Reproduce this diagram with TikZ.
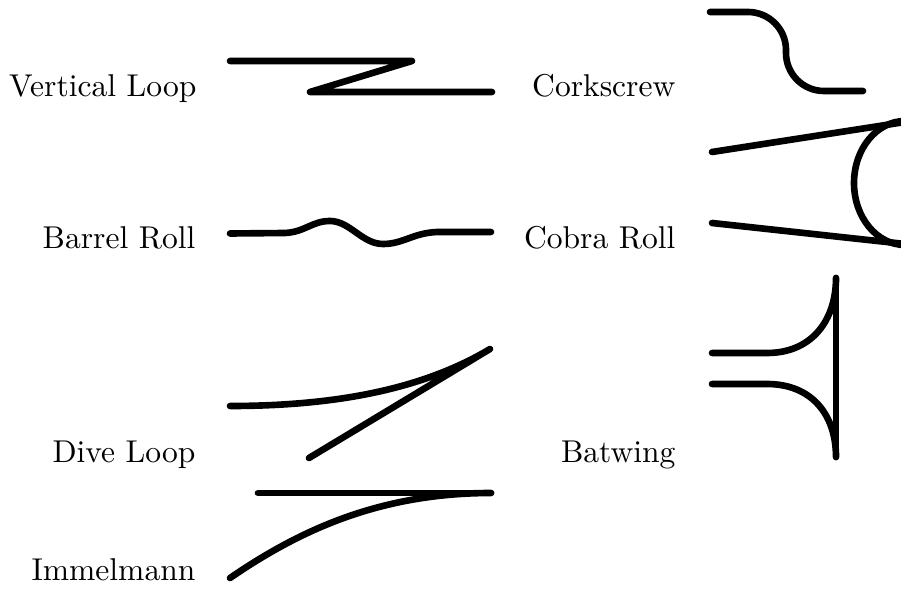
\documentclass[tikz,border=0pt]{standalone}
\begin{document}
\begin{tikzpicture}[x=0.317pt,y=-0.317pt,
  maneuver/.style={line width=2.1pt, line cap=round, line join=round},
  lbl/.style={anchor=base east, inner sep=0pt}]
\useasboundingbox (0,0) rectangle (901,590);
% labels
\node[lbl] (vl) at (197,96.5) {Vertical Loop};
\node[lbl] (br) at (196,248.5) {Barrel Roll};
\node[lbl] (dl) at (196,462.5) {Dive Loop};
\node[lbl] (im) at (196,580.5) {Immelmann};
\node[lbl] (cs) at (676,96.5) {Corkscrew};
\node[lbl] (cr) at (676,248.5) {Cobra Roll};
\node[lbl] (bw) at (676,462.5) {Batwing};
% Vertical Loop
\draw[maneuver] (230,61) -- (412,61) -- (310,92) -- (492,92);
% Barrel Roll
\draw[maneuver] (230,233.5) -- (285,233) .. controls (305,232) and (312,221) .. (330,221)
  .. controls (350,221) and (362,244) .. (383,244)
  .. controls (403,244) and (413,233) .. (437,232) -- (491,232);
% Dive Loop
\draw[maneuver] (230,406) .. controls (330,406) and (420,391) .. (490,349) -- (309,458);
% Immelmann
\draw[maneuver] (258,493) -- (491,493);
\draw[maneuver] (230,578) .. controls (300,530) and (380,493) .. (491,493);
% Corkscrew
\draw[maneuver] (710,12) -- (748,12) arc[start angle=270,end angle=360,radius=38]
  -- ++(0,3) arc[start angle=180,end angle=90,radius=38] -- (863,91);
% Cobra Roll
\draw[maneuver] (712,152) -- (905,122);
\draw[maneuver] (712,223) -- (905,244);
\draw[maneuver] (905,121) arc[start angle=270,end angle=90,x radius=51,y radius=62];
% Batwing
\draw[maneuver] (836,278) -- (836,457);
\draw[maneuver] (712,353) -- (767,353) .. controls (812,353) and (836,320) .. (836,278);
\draw[maneuver] (712,384) -- (767,384) .. controls (812,384) and (836,415) .. (836,457);
\end{tikzpicture}
\end{document}
